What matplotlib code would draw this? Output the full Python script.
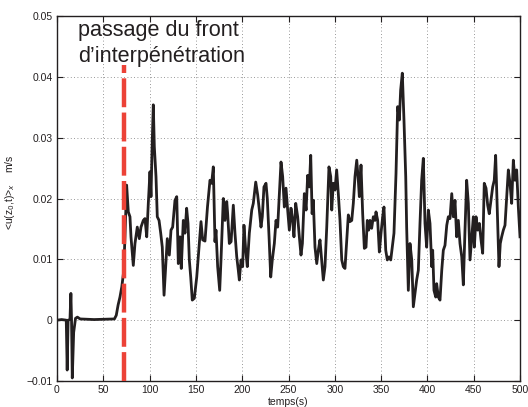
import matplotlib
matplotlib.use("Agg")
import matplotlib.pyplot as plt
import numpy as np

plt.rcParams['font.family'] = ['Liberation Sans', 'DejaVu Sans']

# time (s)
t = [0, 5, 10, 11, 12, 14, 15, 15.7, 16.5, 18, 20, 22, 25, 40, 62, 64, 66, 68, 70, 72,
     73.4, 75.2, 77, 78.8, 79.9, 82.4, 84.2, 86.7, 88.9, 90.7, 93.2, 95, 96.9, 98.6, 100.4,
     101.5, 102.9, 104, 105.1, 106.9, 108.3, 110.2, 112, 113.7, 115.6, 117.4, 119.1, 121.3,
     123.1, 124.9, 127.4, 129.3, 131, 132.8, 134.2, 136.4, 138.2, 140, 141.5, 142.9, 144.4,
     146.1, 148.3, 150.9, 153.3, 155.5, 157.3, 159.8, 162.5, 165.2, 167, 168.8, 170.6, 171.7,
     173.5, 175.7, 177.1, 179.6, 181.4, 183.3, 184.3, 186.1, 188, 190.4, 192.2, 194.1, 195.8,
     196.9, 198.7, 200.5, 201.9, 203.8, 205.5, 207.7, 210.3, 212, 214.6, 216.7, 218.5, 220.3,
     221.7, 223.5, 225.7, 227.1, 229, 230.8, 232.5, 234.7, 236.5, 238.3, 239.7, 241.9, 243.7,
     245.5, 247.3, 249.1, 250.9, 252.7, 254.5, 255.9, 257.8, 259.9, 261.7, 263.5, 265, 267.1,
     269, 270.7, 272.5, 274, 275.5, 276.8, 278.6, 280.5, 282.2, 284, 285.8, 287.6, 289.4,
     291.3, 293.7, 295.6, 296.7, 298.4, 300.2, 302, 303.8, 305.6, 307.5, 309.2, 311, 312.9,
     314.6, 316.4, 318.3, 320, 321.8, 323.7, 325.4, 326.5, 328.3, 330.1, 331.9, 333.7, 335.1,
     336.6, 338, 339.8, 341.6, 343.4, 344.5, 346.3, 348.1, 349.9, 351.7, 353.1, 355, 356.7,
     358.5, 360.4, 362.1, 363.9, 366.1, 367.9, 369.7, 371.1, 372.9, 374.7, 376.6, 377.6,
     379.4, 381.2, 383.1, 384.8, 386.6, 388.4, 390.2, 392, 393.8, 395.6, 397.4, 399.2, 401,
     402.8, 404.7, 405.7, 407.1, 409, 410, 411.8, 413.6, 415.5, 417.2, 419, 420.9, 422.6,
     424.4, 426.3, 428, 429.8, 431.6, 433.4, 435.2, 437.1, 438.8, 440.6, 442.4, 444.2, 446,
     447.9, 449.6, 450.7, 452.5, 454.3, 456.1, 457.9, 459.7, 461.4, 463.3, 465.1, 466.8,
     468.7, 470.5, 472.2, 473.7, 475.5, 477.3, 478.7, 480.2, 482, 483.8, 485.6, 487.4, 489.2,
     491, 492.8, 494.6, 496.4, 498.2, 500]

# <u(z0,t)>_x (m/s)
u = [0.0, 0.0001, 0.0, -0.0082, 0.0, 0.0001, 0.0044, 0.0, -0.0095, -0.002, 0.0003, 0.0005,
     0.0002, 0.0001, 0.0002, 0.0008, 0.0025, 0.0038, 0.0055, 0.008,
     0.0137, 0.0222, 0.0178, 0.017, 0.0137, 0.009, 0.0126, 0.0153, 0.0134, 0.0153, 0.0164,
     0.0167, 0.0137, 0.0192, 0.0244, 0.0203, 0.0296, 0.0354, 0.0285, 0.0236, 0.017, 0.0164,
     0.0143, 0.012, 0.0041, 0.0088, 0.0134, 0.0107, 0.0148, 0.0153, 0.0197, 0.0203, 0.0093,
     0.0137, 0.0085, 0.0164, 0.0143, 0.0184, 0.0159, 0.0099, 0.0071, 0.0033, 0.0036, 0.0071,
     0.0118, 0.0162, 0.0132, 0.0130, 0.0186, 0.023, 0.0225, 0.0252, 0.0129, 0.0148, 0.0088,
     0.0049, 0.0099, 0.020, 0.0164, 0.0195, 0.0175, 0.0126, 0.0129, 0.0189, 0.0143, 0.0104,
     0.0082, 0.0066, 0.0099, 0.0088, 0.0156, 0.0115, 0.0088, 0.0143, 0.0181, 0.0192, 0.0227,
     0.0206, 0.0181, 0.0153, 0.017, 0.0219, 0.0225, 0.020, 0.0137, 0.0071, 0.0099, 0.0126,
     0.0164, 0.0153, 0.0195, 0.026, 0.0236, 0.0186, 0.0217, 0.0181, 0.0148, 0.0184, 0.0164,
     0.0137, 0.0192, 0.017, 0.0137, 0.0107, 0.0126, 0.0208, 0.0181, 0.0238, 0.0219, 0.0271,
     0.0175, 0.0197, 0.012, 0.0093, 0.0115, 0.0132, 0.0099, 0.0066, 0.0088,
     0.0153, 0.0252, 0.0236, 0.0181, 0.0225, 0.0214, 0.0247, 0.0208, 0.0164, 0.0099, 0.0088,
     0.0085, 0.0132, 0.0173, 0.0162, 0.0164, 0.0192, 0.0236, 0.0263, 0.023, 0.0203, 0.0255,
     0.0175, 0.0118, 0.012, 0.0164, 0.0148, 0.0164, 0.0151, 0.017, 0.0164, 0.0178, 0.0164,
     0.0112, 0.0143, 0.017, 0.0186, 0.0115, 0.0099, 0.0104, 0.0099, 0.012, 0.0143, 0.0241,
     0.0351, 0.0329, 0.0378, 0.0406, 0.0329, 0.0236, 0.0153, 0.0049, 0.0126, 0.0099, 0.0022,
     0.0044, 0.0066, 0.0082, 0.0159, 0.023, 0.0266, 0.0159, 0.012, 0.0181, 0.0159, 0.0088,
     0.0115, 0.0049, 0.0038, 0.006, 0.0038, 0.0033, 0.0082, 0.0115, 0.0123, 0.0156, 0.017,
     0.0167, 0.0208, 0.017, 0.0197, 0.0137, 0.0164, 0.0126, 0.0104, 0.0058, 0.0148, 0.023,
     0.0192, 0.0099, 0.0137, 0.017, 0.012, 0.017, 0.0148, 0.0159, 0.0132, 0.011, 0.0225,
     0.0217, 0.0189, 0.0175, 0.0197, 0.0219, 0.023, 0.0271, 0.0181, 0.0088, 0.0126, 0.0137,
     0.0148, 0.0156, 0.0203, 0.0247, 0.0225, 0.0192, 0.0263, 0.023, 0.0247, 0.0186, 0.0137]

front_t = 72
front_top = 0.042
annot_lines = ['passage du front', 'd\u2019interpénétration']
xticks = [0, 50, 100, 150, 200, 250, 300, 350, 400, 450, 500]
yticks = [-0.01, 0, 0.01, 0.02, 0.03, 0.04, 0.05]
ytick_labels = ['\u22120.01', '0', '0.01', '0.02', '0.03', '0.04', '0.05']

fig = plt.figure(figsize=(5.28, 4.07), dpi=100)
ax = fig.add_axes([57/528, 1 - 381/407, 463/528, 365/407])

ax.plot(t, u, color='#231f20', lw=2.0, solid_joinstyle='round', zorder=3)
ax.plot([front_t, front_t], [-0.01, front_top], color='#ec4237', lw=3.2,
        dashes=(6.5, 1.2), zorder=4)

ax.text(22.5, 0.0467, annot_lines[0], fontsize=15.6, va='baseline', ha='left',
        color='#231f20', zorder=5)
ax.text(22.5, 0.04245, annot_lines[1], fontsize=15.6, va='baseline', ha='left',
        color='#231f20', zorder=5)

ax.set_xlim(0, 500)
ax.set_ylim(-0.01, 0.05)
ax.set_xticks(xticks)
ax.set_yticks(yticks)
ax.set_yticklabels(ytick_labels)
ax.tick_params(direction='in', top=True, right=True, labelsize=7.5, length=4,
               width=0.8, colors='#231f20', pad=3)
ax.grid(True, linestyle=(0, (1, 3)), color='#777777', lw=0.6)
for s in ax.spines.values():
    s.set_linewidth(1.0)
    s.set_color('#231f20')

ax.set_xlabel('temps(s)', fontsize=7.5, labelpad=1, color='#231f20')
fig.text(10/528, 1 - 192/407, r'<u(z$_0$,t)>$_x$    m/s', rotation=90, fontsize=7.5,
         ha='center', va='center', color='#231f20')

fig.savefig('out.png', dpi=100)
